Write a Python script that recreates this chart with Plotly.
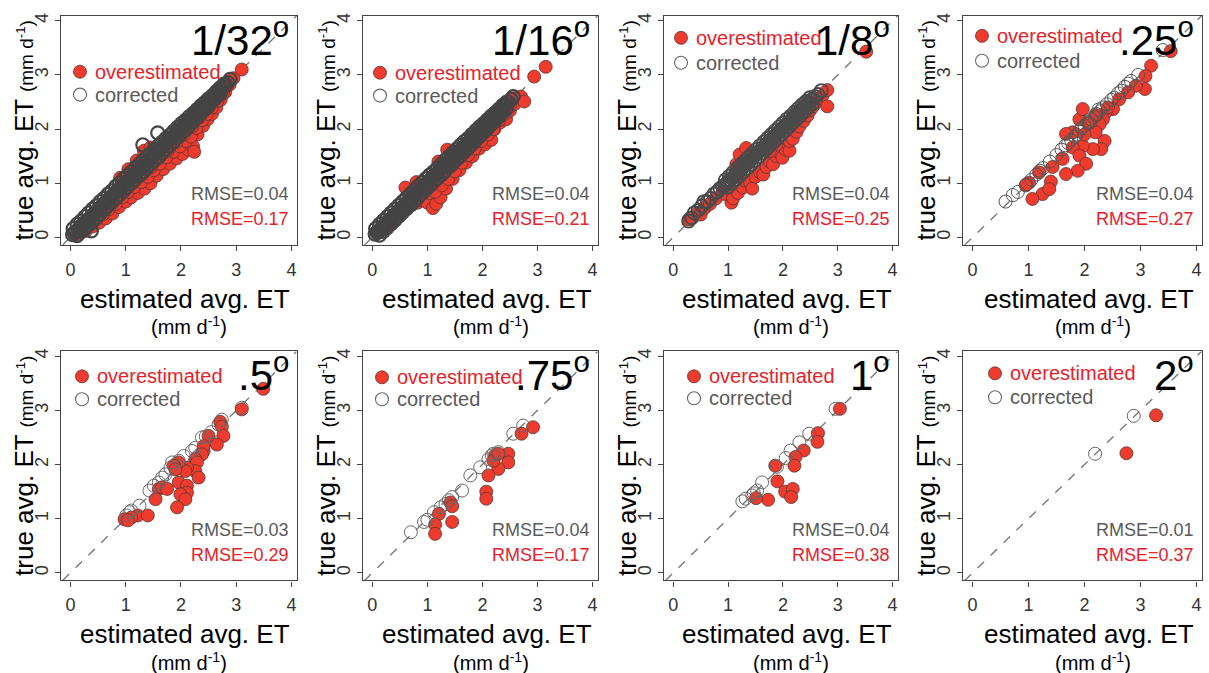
import plotly.graph_objects as go

# ---------------- data ----------------
panel_labels = ["1/32", "1/16", "1/8", ".25", ".5", ".75", "1", "2"]
rmse_corrected = ["0.04", "0.04", "0.04", "0.04", "0.03", "0.04", "0.04", "0.01"]
rmse_over = ["0.17", "0.21", "0.25", "0.27", "0.29", "0.17", "0.38", "0.37"]
tick_vals = [0, 1, 2, 3, 4]
tick_text = ["0", "1", "2", "3", "4"]
legend_names = ["overestimated", "corrected"]

# (estimated, true) pairs
p1_over = [
    (0.15, 0.06), (0.28, 0.12), (0.40, 0.20), (0.52, 0.27), (0.64, 0.35), (0.76, 0.44), (0.88, 0.56),
    (1.00, 0.66), (1.10, 0.74), (1.22, 0.82), (1.34, 0.90), (1.45, 1.00), (1.56, 1.14), (1.68, 1.26),
    (1.80, 1.36), (1.92, 1.46), (2.03, 1.54), (2.13, 1.62), (2.22, 1.68), (2.24, 1.58), (2.30, 1.90),
    (2.40, 2.06), (2.48, 2.18), (2.56, 2.28), (2.64, 2.40), (2.72, 2.54), (2.80, 2.68), (2.88, 2.82),
    (0.22, 0.14), (0.34, 0.22), (0.46, 0.32), (0.58, 0.42), (0.70, 0.52), (0.82, 0.62), (0.94, 0.74),
    (1.05, 0.84), (1.16, 0.93), (1.28, 1.02), (1.40, 1.12), (1.51, 1.24), (1.62, 1.36), (1.74, 1.48),
    (1.86, 1.58), (1.98, 1.68), (2.09, 1.78), (2.18, 1.86), (2.28, 2.02), (2.38, 2.16), (2.47, 2.28),
    (2.56, 2.40), (2.66, 2.52), (2.76, 2.66),
    (0.30, 0.26), (0.50, 0.42), (0.66, 0.58), (0.84, 0.74), (1.00, 0.90), (1.14, 1.04), (1.30, 1.16),
    (1.46, 1.30), (1.60, 1.46), (1.76, 1.60), (1.92, 1.76), (2.06, 1.90), (2.20, 2.04), (2.34, 2.22),
    (2.50, 2.40), (2.64, 2.56),
    (0.90, 1.10), (1.05, 1.26), (1.20, 1.42), (1.33, 1.60), (1.45, 1.66),
    (2.95, 2.94), (3.10, 3.10),
]
p1_corr = [
    (0.04, 0.05), (0.07, 0.08), (0.10, 0.11), (0.14, 0.13), (0.17, 0.18), (0.20, 0.21), (0.24, 0.24),
    (0.27, 0.28), (0.30, 0.31), (0.34, 0.33), (0.37, 0.38), (0.40, 0.41), (0.44, 0.44), (0.47, 0.48),
    (0.50, 0.51), (0.53, 0.53), (0.57, 0.58), (0.60, 0.61), (0.63, 0.64), (0.67, 0.67), (0.70, 0.71),
    (0.73, 0.74), (0.77, 0.77), (0.80, 0.81), (0.83, 0.84), (0.87, 0.87), (0.90, 0.91), (0.93, 0.94),
    (0.97, 0.97), (1.00, 1.01), (1.03, 1.04), (1.07, 1.07), (1.10, 1.11), (1.13, 1.14), (1.17, 1.17),
    (1.20, 1.21), (1.23, 1.24), (1.27, 1.27), (1.30, 1.31), (1.33, 1.34), (1.37, 1.37), (1.40, 1.41),
    (1.43, 1.44), (1.47, 1.47), (1.50, 1.51), (1.53, 1.54), (1.57, 1.57), (1.60, 1.61), (1.63, 1.64),
    (1.67, 1.67), (1.70, 1.71), (1.73, 1.74), (1.77, 1.77), (1.80, 1.81), (1.83, 1.84), (1.87, 1.87),
    (1.90, 1.91), (1.93, 1.94), (1.97, 1.97), (2.00, 2.01), (2.03, 2.04), (2.07, 2.07), (2.10, 2.11),
    (2.13, 2.14), (2.17, 2.17), (2.20, 2.21), (2.23, 2.24), (2.27, 2.27), (2.30, 2.31), (2.33, 2.34),
    (2.37, 2.37), (2.40, 2.41), (2.43, 2.44), (2.47, 2.47), (2.50, 2.51), (2.53, 2.54), (2.57, 2.57),
    (2.60, 2.61), (2.63, 2.64), (2.67, 2.67), (2.70, 2.71), (2.73, 2.74), (2.77, 2.78), (2.81, 2.82),
    (2.85, 2.86), (2.89, 2.92),
    (0.05, 0.16), (0.12, 0.24), (0.19, 0.30), (0.26, 0.38), (0.33, 0.45), (0.40, 0.52), (0.47, 0.58),
    (0.54, 0.66), (0.61, 0.72), (0.68, 0.80), (0.75, 0.86), (0.82, 0.94), (0.89, 1.00), (0.96, 1.08),
    (1.03, 1.14), (1.10, 1.21), (1.17, 1.28), (1.24, 1.35), (1.31, 1.42), (1.38, 1.48), (1.45, 1.55),
    (1.52, 1.62), (1.59, 1.69), (1.66, 1.76), (1.73, 1.83), (1.80, 1.89), (1.87, 1.96), (1.94, 2.03),
    (2.01, 2.10), (2.08, 2.16), (2.15, 2.23), (2.22, 2.29), (2.29, 2.36), (2.36, 2.43), (2.43, 2.49),
    (2.50, 2.56), (2.57, 2.62), (2.64, 2.69), (2.71, 2.76), (2.78, 2.83),
    (0.12, 0.03), (0.19, 0.10), (0.26, 0.16), (0.33, 0.23), (0.40, 0.30), (0.47, 0.37), (0.54, 0.44),
    (0.61, 0.51), (0.68, 0.58), (0.75, 0.65), (0.82, 0.72), (0.89, 0.79), (0.96, 0.86), (1.03, 0.93),
    (1.10, 1.00), (1.17, 1.07), (1.24, 1.14), (1.31, 1.21), (1.38, 1.28), (1.45, 1.35), (1.52, 1.42),
    (1.59, 1.49), (1.66, 1.56), (1.73, 1.63), (1.80, 1.70), (1.87, 1.77), (1.94, 1.85), (2.01, 1.92),
    (2.08, 1.99), (2.15, 2.06), (2.22, 2.14), (2.29, 2.21), (2.36, 2.29), (2.43, 2.36), (2.50, 2.44),
    (2.57, 2.51), (2.64, 2.59), (2.71, 2.66),
    (1.31, 1.71), (1.58, 1.93), (0.38, 0.12),
]

p2_over = [
    (0.12, 0.10), (0.24, 0.18), (0.36, 0.30), (0.48, 0.40), (0.60, 0.52), (0.72, 0.60), (0.82, 0.64),
    (0.90, 0.68), (1.00, 0.64), (1.10, 0.54), (1.16, 0.62), (1.24, 0.74), (1.34, 0.90), (1.46, 1.08),
    (1.58, 1.24), (1.70, 1.38), (1.82, 1.50), (1.94, 1.64), (2.05, 1.72), (2.16, 1.80), (2.22, 2.00),
    (2.32, 2.12), (2.43, 2.18), (2.50, 2.34), (2.58, 2.46),
    (0.20, 0.18), (0.32, 0.26), (0.44, 0.38), (0.56, 0.50), (0.68, 0.62), (0.80, 0.74), (0.92, 0.82),
    (1.04, 0.82), (1.14, 0.84), (1.26, 0.96), (1.38, 1.08), (1.50, 1.22), (1.62, 1.38), (1.74, 1.52),
    (1.86, 1.64), (1.98, 1.78), (2.10, 1.90), (2.20, 2.00), (2.30, 2.16), (2.40, 2.28), (2.50, 2.44),
    (0.40, 0.36), (0.60, 0.56), (0.78, 0.72), (0.96, 0.90), (1.12, 1.02), (1.28, 1.16), (1.44, 1.32),
    (1.60, 1.48), (1.76, 1.66), (1.92, 1.82), (2.08, 1.98), (2.24, 2.14), (2.40, 2.34),
    (0.60, 0.92), (0.80, 1.02), (1.20, 1.40), (1.36, 1.62),
    (2.58, 2.57), (2.70, 2.60), (2.76, 2.51), (2.94, 2.97), (3.15, 3.15),
]
p2_corr = [
    (0.05, 0.06), (0.08, 0.09), (0.11, 0.12), (0.15, 0.14), (0.18, 0.19), (0.21, 0.22), (0.25, 0.25),
    (0.28, 0.29), (0.31, 0.32), (0.35, 0.34), (0.38, 0.39), (0.41, 0.42), (0.45, 0.45), (0.48, 0.49),
    (0.51, 0.52), (0.54, 0.54), (0.58, 0.59), (0.61, 0.62), (0.64, 0.65), (0.68, 0.68), (0.71, 0.72),
    (0.74, 0.75), (0.78, 0.78), (0.81, 0.82), (0.84, 0.85), (0.88, 0.88), (0.91, 0.92), (0.94, 0.95),
    (0.98, 0.98), (1.01, 1.02), (1.04, 1.05), (1.08, 1.08), (1.11, 1.12), (1.14, 1.15), (1.18, 1.18),
    (1.21, 1.22), (1.24, 1.25), (1.28, 1.28), (1.31, 1.32), (1.34, 1.35), (1.38, 1.38), (1.41, 1.42),
    (1.44, 1.45), (1.48, 1.48), (1.51, 1.52), (1.54, 1.55), (1.58, 1.58), (1.61, 1.62), (1.64, 1.65),
    (1.68, 1.68), (1.71, 1.72), (1.74, 1.75), (1.78, 1.78), (1.81, 1.82), (1.84, 1.85), (1.88, 1.88),
    (1.91, 1.92), (1.94, 1.95), (1.98, 1.98), (2.01, 2.02), (2.04, 2.05), (2.08, 2.08), (2.11, 2.12),
    (2.14, 2.15), (2.18, 2.18), (2.21, 2.22), (2.24, 2.25), (2.28, 2.29), (2.31, 2.32), (2.35, 2.36),
    (2.39, 2.41), (2.43, 2.45), (2.47, 2.50), (2.52, 2.55), (2.56, 2.60),
    (0.06, 0.16), (0.13, 0.24), (0.20, 0.31), (0.27, 0.38), (0.34, 0.45), (0.41, 0.52), (0.48, 0.59),
    (0.55, 0.66), (0.62, 0.73), (0.69, 0.80), (0.76, 0.87), (0.83, 0.94), (0.90, 1.01), (0.97, 1.08),
    (1.04, 1.15), (1.11, 1.21), (1.18, 1.28), (1.25, 1.35), (1.32, 1.42), (1.39, 1.49), (1.46, 1.56),
    (1.53, 1.63), (1.60, 1.70), (1.67, 1.77), (1.74, 1.83), (1.81, 1.90), (1.88, 1.97), (1.95, 2.04),
    (2.02, 2.10), (2.09, 2.17), (2.16, 2.24), (2.23, 2.30), (2.30, 2.37), (2.37, 2.44), (2.44, 2.50),
    (0.13, 0.04), (0.20, 0.11), (0.27, 0.18), (0.34, 0.25), (0.41, 0.32), (0.48, 0.39), (0.55, 0.46),
    (0.62, 0.53), (0.69, 0.60), (0.76, 0.67), (0.83, 0.74), (0.90, 0.81), (0.97, 0.88), (1.04, 0.95),
    (1.11, 1.02), (1.18, 1.09), (1.25, 1.16), (1.32, 1.23), (1.39, 1.30), (1.46, 1.37), (1.53, 1.44),
    (1.60, 1.51), (1.67, 1.58), (1.74, 1.65), (1.81, 1.72), (1.88, 1.79), (1.95, 1.87), (2.02, 1.94),
    (2.09, 2.01), (2.16, 2.08), (2.23, 2.16), (2.30, 2.23), (2.37, 2.31), (2.44, 2.38),
]

p3_over = [
    (0.28, 0.33), (0.35, 0.36), (0.45, 0.45), (0.50, 0.42), (0.58, 0.55), (0.67, 0.62), (0.78, 0.72),
    (0.90, 0.84), (0.95, 0.80), (1.05, 0.86), (1.06, 0.64), (1.09, 0.72), (1.18, 0.82), (1.27, 0.92),
    (1.30, 1.05), (1.40, 1.02), (1.44, 0.90), (1.50, 1.12), (1.58, 1.20), (1.64, 1.16), (1.70, 1.30),
    (1.76, 1.40), (1.82, 1.35), (1.88, 1.50), (1.95, 1.56), (1.99, 1.47), (2.05, 1.62), (2.12, 1.60),
    (2.12, 1.78), (2.18, 1.82), (2.25, 1.95), (2.30, 2.05), (2.38, 2.15), (2.45, 2.25), (2.50, 2.35),
    (2.55, 2.42), (2.62, 2.50), (2.66, 2.57), (2.72, 2.62), (2.81, 2.72), (2.81, 2.42),
    (1.15, 1.35), (1.21, 1.53), (1.33, 1.65), (1.33, 1.41), (1.88, 1.71), (1.76, 1.59),
    (3.52, 3.43),
]
p3_corr = [
    (0.28, 0.30), (0.33, 0.36), (0.38, 0.45), (0.45, 0.50), (0.52, 0.58), (0.56, 0.66), (0.62, 0.66),
    (0.68, 0.72), (0.74, 0.80), (0.80, 0.84), (0.85, 0.90), (0.90, 0.94),
    (0.94, 0.96), (0.97, 0.99), (1.00, 1.03), (1.04, 1.06), (1.07, 1.09), (1.11, 1.13), (1.14, 1.16),
    (1.18, 1.20), (1.21, 1.23), (1.25, 1.27), (1.28, 1.30), (1.32, 1.34), (1.35, 1.37), (1.39, 1.41),
    (1.42, 1.44), (1.46, 1.48), (1.49, 1.51), (1.53, 1.55), (1.56, 1.58), (1.60, 1.62), (1.63, 1.65),
    (1.67, 1.69), (1.70, 1.72), (1.74, 1.76), (1.77, 1.79), (1.81, 1.83), (1.84, 1.86), (1.88, 1.90),
    (1.91, 1.93), (1.95, 1.97), (1.98, 2.00), (2.02, 2.04), (2.05, 2.07), (2.09, 2.11), (2.12, 2.14),
    (2.16, 2.18), (2.19, 2.21), (2.23, 2.25), (2.26, 2.28), (2.30, 2.32), (2.33, 2.35), (2.37, 2.39),
    (2.40, 2.42), (2.44, 2.46), (2.47, 2.49), (2.51, 2.53), (2.55, 2.56), (2.59, 2.60), (2.64, 2.64),
    (2.70, 2.71),
    (0.95, 1.06), (1.02, 1.13), (1.09, 1.20), (1.16, 1.27), (1.23, 1.34), (1.30, 1.41), (1.37, 1.48),
    (1.44, 1.55), (1.51, 1.62), (1.58, 1.69), (1.65, 1.76), (1.72, 1.83), (1.79, 1.90), (1.86, 1.97),
    (1.93, 2.04), (2.00, 2.11), (2.07, 2.18), (2.14, 2.24), (2.21, 2.31), (2.28, 2.38), (2.35, 2.45),
    (2.42, 2.51), (2.49, 2.58),
    (1.00, 0.93), (1.07, 1.00), (1.14, 1.07), (1.21, 1.14), (1.28, 1.21), (1.35, 1.28), (1.42, 1.35),
    (1.49, 1.42), (1.56, 1.49), (1.63, 1.56), (1.70, 1.63), (1.77, 1.70), (1.84, 1.77), (1.91, 1.84),
    (1.98, 1.91), (2.05, 1.98), (2.12, 2.05), (2.19, 2.12), (2.26, 2.19), (2.33, 2.26), (2.40, 2.33),
    (2.47, 2.40), (2.54, 2.47),
]

p4_over = [
    (3.54, 3.44), (3.19, 3.17), (3.09, 2.98), (3.08, 2.74), (2.92, 2.80), (2.78, 2.68), (2.62, 2.55),
    (2.51, 2.37), (2.38, 2.31), (2.33, 2.18), (2.27, 2.09), (2.36, 1.78), (2.30, 1.63), (2.15, 1.63),
    (2.09, 2.00), (2.20, 1.94), (1.97, 1.69), (1.79, 1.94), (1.67, 1.91), (1.91, 2.18), (1.97, 2.37),
    (1.79, 1.66), (1.91, 1.51), (2.03, 1.36), (1.88, 1.23), (1.67, 1.17), (1.61, 1.45), (1.43, 1.30),
    (1.40, 1.03), (1.25, 0.80), (1.07, 0.71), (1.37, 0.89), (1.01, 1.01), (0.95, 0.96), (1.19, 1.20),
    (2.10, 2.12), (2.20, 2.26), (2.00, 1.90), (2.42, 2.40),
]
p4_corr = [
    (0.59, 0.66), (0.72, 0.78), (0.81, 0.84), (0.96, 0.98), (1.05, 1.06), (1.14, 1.16), (1.26, 1.28),
    (1.38, 1.40), (1.50, 1.52), (1.59, 1.62), (1.71, 1.74), (1.83, 1.86), (1.91, 1.96), (2.00, 2.06),
    (2.12, 2.18), (2.21, 2.28), (2.33, 2.40), (2.48, 2.54), (2.60, 2.66), (2.72, 2.78), (2.83, 2.89),
    (2.96, 3.00), (3.40, 3.46), (1.20, 1.23), (1.66, 1.70), (2.05, 2.12), (2.40, 2.46),
    (1.86, 1.90), (1.95, 2.02), (2.08, 2.13), (2.18, 2.22), (2.28, 2.33), (2.53, 2.58), (2.66, 2.71),
    (2.78, 2.84), (1.76, 1.80), (2.25, 2.36),
]

p5_over = [
    (3.49, 3.40), (3.10, 3.02), (2.71, 2.79), (2.74, 2.70), (2.77, 2.53), (2.65, 2.37), (2.50, 2.53),
    (2.41, 2.25), (2.41, 2.34), (2.38, 2.19), (2.26, 2.10), (2.29, 2.04), (2.26, 1.88), (2.32, 1.76),
    (2.11, 1.94), (2.08, 1.88), (1.96, 2.04), (1.87, 1.98), (1.90, 1.91), (1.96, 1.67), (2.11, 1.61),
    (2.11, 1.48), (1.99, 1.45), (2.08, 1.36), (1.93, 1.21), (1.60, 1.55), (1.66, 1.58), (1.54, 1.36),
    (1.75, 1.55), (1.22, 1.06), (1.40, 1.06), (1.10, 1.02), (0.98, 0.99), (1.04, 0.97),
]
p5_corr = [
    (3.10, 3.05), (2.74, 2.83), (2.68, 2.74), (2.38, 2.50), (2.45, 2.52), (2.26, 2.31), (2.20, 2.25),
    (2.05, 2.16), (1.96, 2.07), (1.84, 2.04), (1.81, 1.94), (1.72, 1.82), (1.66, 1.76), (1.60, 1.67),
    (1.51, 1.61), (1.43, 1.52), (1.25, 1.24), (1.10, 1.15), (1.07, 1.12), (1.01, 1.06), (2.55, 2.60),
]

p6_over = [
    (2.92, 2.69), (2.71, 2.57), (2.47, 2.20), (2.47, 2.04), (2.29, 1.92), (2.23, 2.17), (2.20, 2.07),
    (2.29, 2.20), (2.11, 1.80), (2.07, 1.50), (2.07, 1.37), (1.42, 1.30), (1.45, 1.23), (1.45, 0.94),
    (1.21, 1.09), (1.14, 0.89), (1.14, 0.72),
]
p6_corr = [
    (2.74, 2.72), (2.56, 2.57), (2.29, 2.23), (2.17, 2.17), (2.11, 2.10), (2.20, 2.20), (1.96, 1.95),
    (1.78, 1.80), (1.63, 1.52), (1.39, 1.34), (1.33, 1.27), (1.24, 1.21), (1.12, 1.12), (0.94, 0.94),
    (1.00, 0.98), (0.70, 0.75), (1.45, 1.40),
]

p7_over = [
    (3.04, 3.03), (2.64, 2.58), (2.63, 2.42), (2.38, 2.26), (2.23, 2.14), (2.21, 1.98), (1.86, 1.98),
    (1.90, 1.69), (2.04, 1.50), (2.18, 1.55), (2.15, 1.40), (1.73, 1.35), (1.51, 1.38),
]
p7_corr = [
    (2.96, 3.03), (2.48, 2.57), (2.30, 2.41), (2.14, 2.26), (2.05, 2.12), (1.89, 1.96), (1.62, 1.67),
    (1.53, 1.52), (1.44, 1.43), (1.32, 1.37), (1.26, 1.32), (1.47, 1.47),
]

p8_over = [(3.28, 2.91), (2.75, 2.21)]
p8_corr = [(2.88, 2.90), (2.19, 2.20)]

# ---------------- layout / style (positions in pixels) ----------------
W, H = 1209, 673
FONT = "Liberation Sans, Arial, Helvetica, sans-serif"
RED = "#EE3B2E"
RED_TXT = "#E8202A"
GRAY_TXT = "#5a5a5a"

cols = [(61, 297), (363, 598), (664, 898), (963, 1202)]
rows = [(13, 243), (350, 580)]
legend_off = [(19, 56), (17, 57), (17, 22), (19, 20), (21, 25), (19, 26), (30, 25), (32, 22)]
legend_gap = [23, 23, 25, 25, 23, 22, 22, 24]
corr_line_w = [2.2, 2.2, 1.9, 1.0, 1.0, 1.0, 1.0, 1.0]
corr_color = ["#444444", "#444444", "#4a4a4a", "#555555", "#666666", "#666666", "#666666", "#666666"]
XR = [-0.17, 4.1]
YR = [-0.14, 4.09]

overs = [p1_over, p2_over, p3_over, p4_over, p5_over, p6_over, p7_over, p8_over]
corrs = [p1_corr, p2_corr, p3_corr, p4_corr, p5_corr, p6_corr, p7_corr, p8_corr]


def fx(px):
    return px / W


def fy(py):
    return 1 - py / H


fig = go.Figure()
layout = {}
shapes = []
annotations = []

for i in range(8):
    r, c = divmod(i, 4)
    L, R = cols[c]
    T, B = rows[r]
    sfx = "" if i == 0 else str(i + 1)
    xa, ya = "x" + sfx, "y" + sfx

    ov = overs[i]
    co = corrs[i]
    fig.add_trace(go.Scatter(
        x=[p[0] for p in ov], y=[p[1] for p in ov], mode="markers",
        marker=dict(size=13, color=RED, line=dict(color="#5a3632", width=0.8)),
        xaxis=xa, yaxis=ya, showlegend=False, hoverinfo="skip", cliponaxis=True))
    fig.add_trace(go.Scatter(
        x=[p[0] for p in co], y=[p[1] for p in co], mode="markers",
        marker=dict(size=13, symbol="circle-open", color=corr_color[i],
                    line=dict(width=corr_line_w[i], color=corr_color[i])),
        xaxis=xa, yaxis=ya, showlegend=False, hoverinfo="skip", cliponaxis=True))

    common = dict(showline=True, linecolor="#444444", linewidth=1.3, mirror=True,
                  showgrid=False, zeroline=False, ticks="outside", ticklen=5,
                  tickwidth=1.2, tickcolor="#444444", tickvals=tick_vals, ticktext=tick_text,
                  tickfont=dict(size=18, color="#333333", family=FONT))
    layout["xaxis" + sfx] = dict(domain=[fx(L), fx(R)], anchor=ya, range=XR,
                                 ticklabelstandoff=3, **common)
    layout["yaxis" + sfx] = dict(domain=[fy(B), fy(T)], anchor=xa, range=YR,
                                 tickangle=-90, **common)

    # 1:1 line
    lo = max(XR[0], YR[0])
    hi = min(XR[1], YR[1])
    shapes.append(dict(type="line", xref=xa, yref=ya, x0=lo, y0=lo, x1=hi, y1=hi,
                       line=dict(color="#7a7a7a", width=1.4, dash="dash"), layer="below"))

    # legend
    lx = L + legend_off[i][0]
    ly1 = T + legend_off[i][1]
    ly2 = ly1 + legend_gap[i]
    shapes.append(dict(type="circle", xref="paper", yref="paper", xsizemode="pixel",
                       ysizemode="pixel", xanchor=fx(lx), yanchor=fy(ly1),
                       x0=-6.5, x1=6.5, y0=-6.5, y1=6.5,
                       fillcolor=RED, line=dict(color="#5a3632", width=0.8)))
    shapes.append(dict(type="circle", xref="paper", yref="paper", xsizemode="pixel",
                       ysizemode="pixel", xanchor=fx(lx), yanchor=fy(ly2),
                       x0=-6.5, x1=6.5, y0=-6.5, y1=6.5,
                       fillcolor="rgba(0,0,0,0)", line=dict(color="#666666", width=1.1)))
    annotations.append(dict(text=legend_names[0], x=fx(lx + 13), y=fy(ly1), xref="paper",
                            yref="paper", xanchor="left", yanchor="middle", showarrow=False,
                            font=dict(size=20, color=RED_TXT, family=FONT)))
    annotations.append(dict(text=legend_names[1], x=fx(lx + 13), y=fy(ly2), xref="paper",
                            yref="paper", xanchor="left", yanchor="middle", showarrow=False,
                            font=dict(size=20, color=GRAY_TXT, family=FONT)))

    # panel label
    annotations.append(dict(text=panel_labels[i] + "<sup>o</sup>", x=fx(R - 6), y=fy(T - 8),
                            xref="paper", yref="paper", xanchor="right", yanchor="top",
                            showarrow=False, font=dict(size=42, color="#000000", family=FONT)))

    # RMSE
    annotations.append(dict(text="RMSE=" + rmse_corrected[i], x=fx(R - 6), y=fy(T + 179),
                            xref="paper", yref="paper", xanchor="right", yanchor="middle",
                            showarrow=False, font=dict(size=18, color=GRAY_TXT, family=FONT)))
    annotations.append(dict(text="RMSE=" + rmse_over[i], x=fx(R - 6), y=fy(T + 204),
                            xref="paper", yref="paper", xanchor="right", yanchor="middle",
                            showarrow=False, font=dict(size=18, color=RED_TXT, family=FONT)))

    # axis titles
    annotations.append(dict(text="true avg. ET <span style='font-size:19px'>(mm d<sup>-1</sup>)</span>",
                            x=fx(L - 37), y=fy((T + B) / 2), xref="paper", yref="paper",
                            xanchor="center", yanchor="middle", textangle=-90, showarrow=False,
                            font=dict(size=26, color="#000000", family=FONT)))
    annotations.append(dict(text="estimated avg. ET", x=fx((L + R) / 2 + 6), y=fy(B + 54),
                            xref="paper", yref="paper", xanchor="center", yanchor="middle",
                            showarrow=False, font=dict(size=26, color="#000000", family=FONT)))
    annotations.append(dict(text="(mm d<sup>-1</sup>)", x=fx((L + R) / 2 + 10), y=fy(B + 81),
                            xref="paper", yref="paper", xanchor="center", yanchor="middle",
                            showarrow=False, font=dict(size=20, color="#000000", family=FONT)))

fig.update_layout(
    width=W, height=H, margin=dict(l=0, r=0, t=0, b=0),
    paper_bgcolor="white", plot_bgcolor="white",
    font=dict(family=FONT), showlegend=False,
    shapes=shapes, annotations=annotations, **layout)

# remove the page's default body margin so the figure fills the window exactly
fig.write_html("out.html", config={"displayModeBar": False},
               post_script="document.body.style.margin='0';document.body.style.overflow='hidden';")
